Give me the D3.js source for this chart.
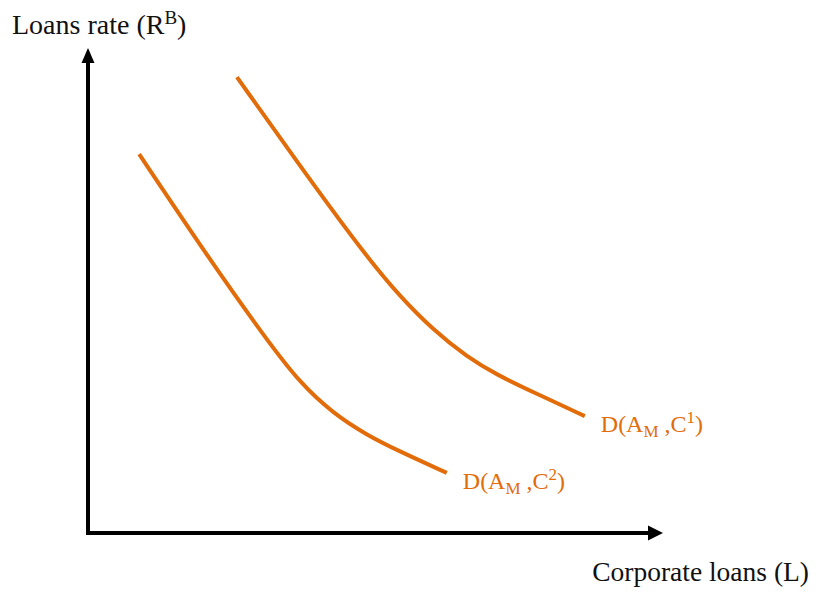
<!DOCTYPE html>
<html lang="en">
<head>
	<meta charset="UTF-8">
	<title>loan demand</title>
	<style type="text/css">
		body { margin: 0; background: #fff; }
		svg text { font-family: "Liberation Serif", "Times New Roman", serif; }
		.axis-line { stroke: #000; stroke-width: 4px; fill: none; }
		.demand { stroke: #e36c0a; stroke-width: 4px; fill: none; }
		.lbl { fill: #e36c0a; font-size: 24px; }
		.title { fill: #111; font-size: 27.5px; }
	</style>
</head>
<body>
<svg id="chart" width="816" height="593"></svg>

<script src="https://cdn.jsdelivr.net/npm/d3@7"></script>
<script>
	"use strict";

	// demand curves, in arbitrary units (0..100 on each axis)
	var c1X = [25.9, 38.6, 48.5, 54.3, 60.0, 65.9, 71.1, 77.7, 86.4];
	var c1Y = [94.0, 72.8, 56.9, 48.7, 41.9, 36.3, 32.6, 28.9, 24.1];
	var c2X = [8.9, 21.2, 31.1, 36.9, 42.6, 48.5, 53.7, 62.4];
	var c2Y = [78.1, 56.3, 39.8, 30.9, 24.7, 20.2, 17.1, 12.4];
	var curveSup = ["1", "2"];

	var svg = d3.select("#chart");

	var x = d3.scaleLinear().domain([0, 100]).range([88, 663]);
	var y = d3.scaleLinear().domain([0, 100]).range([533, 48]);

	// axes with arrow heads
	var head = 15;
	svg.append("path").attr("class", "axis-line")
	  .attr("d", "M" + x(0) + "," + (y(0) + 2) + "V" + (y(100) + head - 2));
	svg.append("path").attr("class", "axis-line")
	  .attr("d", "M" + (x(0) - 2) + "," + y(0) + "H" + (x(100) - head + 2));
	svg.append("path")
	  .attr("d", "M" + x(0) + "," + y(100) + "l-6.5," + head + "h13z")
	  .attr("fill", "#000");
	svg.append("path")
	  .attr("d", "M" + x(100) + "," + y(0) + "l-" + head + ",-7.5v15z")
	  .attr("fill", "#000");

	var line = d3.line()
	  .x(function(d){ return x(d[0]); })
	  .y(function(d){ return y(d[1]); })
	  .curve(d3.curveBasis);

	var curves = [d3.zip(c1X, c1Y), d3.zip(c2X, c2Y)];

	svg.selectAll(".demand")
	  .data(curves)
	  .enter()
	  .append("path")
	  .attr("class", "demand")
	  .attr("d", line);

	// curve labels D(A_M ,C^n)
	var labels = svg.selectAll(".lbl")
	  .data(curves)
	  .enter()
	  .append("text")
	  .attr("class", "lbl")
	  .attr("x", function(d){ return x(d[d.length - 1][0]) + 16; })
	  .attr("y", function(d){ return y(d[d.length - 1][1]) + 16; });
	labels.append("tspan").text("D(A");
	labels.append("tspan").attr("dy", 5).attr("font-size", 17).text("M");
	labels.append("tspan").attr("dy", -5).text(" ,C");
	labels.append("tspan").attr("dy", -9).attr("font-size", 17)
	  .text(function(d, i){ return curveSup[i]; });
	labels.append("tspan").attr("dy", 9).text(")");

	// axis titles
	var yt = svg.append("text").attr("class", "title").attr("x", 12).attr("y", 34)
	  .style("font-size", "28px");
	yt.append("tspan").text("Loans rate (R");
	yt.append("tspan").attr("dy", -10).attr("font-size", 19).text("B");
	yt.append("tspan").attr("dy", 10).text(")");

	svg.append("text").attr("class", "title")
	  .attr("x", 809).attr("y", 581)
	  .attr("text-anchor", "end")
	  .text("Corporate loans (L)");
</script>
</body>
</html>
